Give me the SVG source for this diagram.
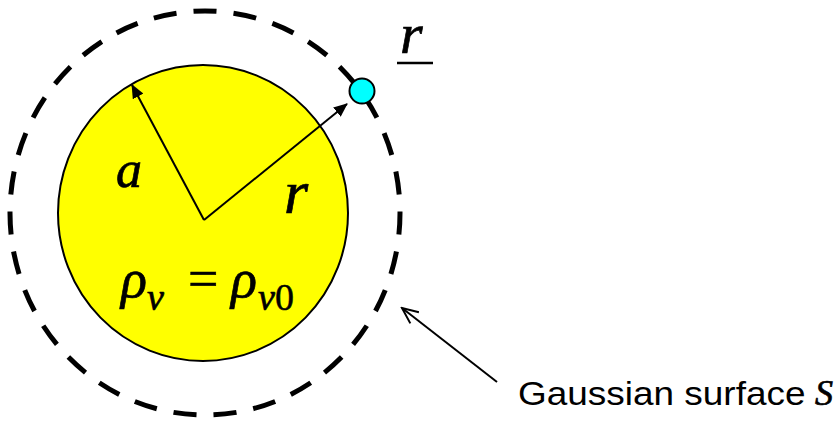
<svg xmlns="http://www.w3.org/2000/svg" width="839" height="421" viewBox="0 0 839 421">
<defs>
<style>
.m{font-family:"Liberation Serif","Times New Roman",serif;font-style:italic;fill:#000;stroke:#000;stroke-width:0.7}
.u{font-family:"Liberation Serif","Times New Roman",serif;font-style:normal;fill:#000;stroke:#000;stroke-width:0.5}
.s{font-family:"Liberation Sans",Arial,sans-serif;fill:#000}
.ln{stroke:#000;stroke-width:2;fill:none}
</style>
<marker id="ah" viewBox="0 0 14 12" refX="13" refY="6" markerWidth="14" markerHeight="12" markerUnits="userSpaceOnUse" orient="auto">
<path d="M0,0 L14,6 L0,12 Z" fill="#000"/>
</marker>
<marker id="oa" viewBox="0 0 20 16" refX="18" refY="8" markerWidth="20" markerHeight="16" markerUnits="userSpaceOnUse" orient="auto">
<path d="M2,1 L18,8 L2,15" fill="none" stroke="#000" stroke-width="2"/>
</marker>
</defs>
<rect width="839" height="421" fill="#fff"/>
<g id="sphere">
<ellipse cx="203" cy="213" rx="145" ry="148" fill="#ffff00" stroke="#000" stroke-width="2"/>
</g>
<g id="gaussian-surface">
<ellipse cx="205" cy="213" rx="195" ry="202" fill="none" stroke="#000" stroke-width="5" pathLength="1240" stroke-dasharray="23 17" stroke-dashoffset="1.5"/>
</g>
<g id="connectors">
<line class="ln" x1="204" y1="220" x2="132" y2="85" marker-end="url(#ah)"/>
<line class="ln" x1="204" y1="220" x2="347" y2="104" marker-end="url(#ah)"/>
<line class="ln" x1="497" y1="382" x2="402" y2="308" marker-end="url(#oa)"/>
</g>
<g id="point">
<circle cx="362" cy="91" r="12.5" fill="#00ffff" stroke="#000" stroke-width="2"/>
</g>
<g id="labels">
<text class="m" x="116" y="187" font-size="52">a</text>
<text class="m" x="284" y="213" font-size="62">r</text>
<text class="m" x="400" y="53" font-size="58">r</text>
<line x1="397" y1="63" x2="433" y2="63" stroke="#000" stroke-width="2.5"/>
<text class="m" x="121" y="297" font-size="54">ρ</text>
<text class="m" x="147" y="310" font-size="38">v</text>
<text class="u" x="188" y="297" font-size="54">=</text>
<text class="m" x="231" y="297" font-size="54">ρ</text>
<text class="m" x="258" y="310" font-size="38">v<tspan class="u">0</tspan></text>
<text class="s" transform="translate(518,405) scale(1.12,1)" font-size="33">Gaussian surface</text>
<text class="m" x="815" y="405" font-size="36" stroke-width="0.3">S</text>
</g>
</svg>
